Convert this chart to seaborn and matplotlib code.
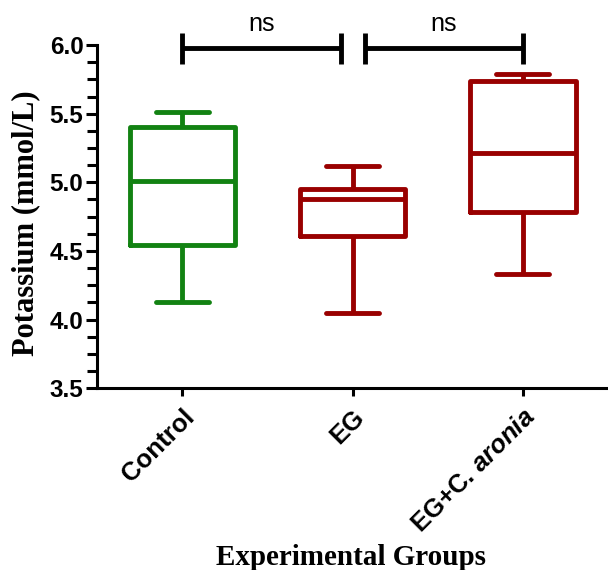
import matplotlib
matplotlib.use("Agg")
import matplotlib.pyplot as plt
from matplotlib.ticker import MultipleLocator
import seaborn as sns
import pandas as pd

sns.set_style("ticks")
plt.rcParams['mathtext.fontset'] = 'custom'
plt.rcParams['mathtext.it'] = 'Liberation Sans:italic:bold'
plt.rcParams['mathtext.rm'] = 'Liberation Sans:bold'
plt.rcParams['text.color'] = 'black'
plt.rcParams['axes.labelcolor'] = 'black'
plt.rcParams['xtick.color'] = 'black'
plt.rcParams['ytick.color'] = 'black'

groups = ["Control", "EG", "EG+C. aronia"]
tick_labels = ["Control", "EG", r"EG+C. $\mathit{aronia}$"]
# five-number summaries (min, Q1, median, Q3, max)
control = [4.13, 4.54, 5.01, 5.40, 5.51]
eg = [4.05, 4.61, 4.88, 4.95, 5.12]
eg_aronia = [4.33, 4.78, 5.21, 5.74, 5.79]
colors = ["#128212", "#990000", "#990000"]

df = pd.DataFrame({
    "group": [groups[0]] * len(control) + [groups[1]] * len(eg) + [groups[2]] * len(eg_aronia),
    "value": control + eg + eg_aronia,
})

fig = plt.figure(figsize=(6.08, 5.70), dpi=100)
ax = fig.add_axes([0.16, 0.319, 0.84, 0.602])

lw = 3.5
sns.boxplot(data=df, x="group", y="value", hue="group", order=groups, hue_order=groups,
            palette=colors, whis=(0, 100), width=0.62, fill=False, linewidth=lw,
            legend=False, ax=ax)

ax.set_xlim(-0.5, 2.5)
ax.set_ylim(3.5, 6.0)
ax.yaxis.set_minor_locator(MultipleLocator(0.125))
ax.set_yticks([3.5, 4.0, 4.5, 5.0, 5.5, 6.0])
ax.set_yticklabels(["3.5", "4.0", "4.5", "5.0", "5.5", "6.0"],
                   fontfamily="Liberation Sans", fontweight="bold", fontsize=17.5, color="black")
ax.set_xticks([0, 1, 2])
ax.set_xticklabels(tick_labels, rotation=45, ha="right", rotation_mode="anchor",
                   fontfamily="Liberation Sans", fontweight="bold", fontsize=18.5, color="black")
ax.tick_params(axis="y", which="major", length=8, width=2.2, color="black", pad=2)
ax.tick_params(axis="y", which="minor", length=7, width=2.2, color="black")
ax.tick_params(axis="x", which="major", length=6, width=2.2, color="black", pad=6)

sns.despine(ax=ax)
for s in ["left", "bottom"]:
    ax.spines[s].set_linewidth(2.2)
    ax.spines[s].set_color("black")

ax.set_ylabel("Potassium (mmol/L)", fontfamily="Liberation Serif", fontweight="bold",
              fontsize=22, color="black")
ax.yaxis.set_label_coords(-0.112, 0.48)
ax.set_xlabel("Experimental Groups", fontfamily="Liberation Serif", fontweight="bold",
              fontsize=21, color="black")
ax.xaxis.set_label_coords(0.496, -0.455)

# significance brackets
def bracket(x0, x1, y, h, text):
    ax.plot([x0, x1], [y, y], color="black", lw=3.5, clip_on=False, solid_capstyle="butt")
    for xx in (x0, x1):
        ax.plot([xx, xx], [y - h, y + h], color="black", lw=3.5, clip_on=False, solid_capstyle="butt")
    ax.text((x0 + x1) / 2, y + 0.09, text, ha="center", va="bottom", fontsize=18,
            fontfamily="Liberation Sans", color="black", clip_on=False)

bracket(0.0, 0.93, 5.975, 0.11, "ns")
bracket(1.07, 2.0, 5.975, 0.11, "ns")

fig.savefig("out.png", dpi=100)
